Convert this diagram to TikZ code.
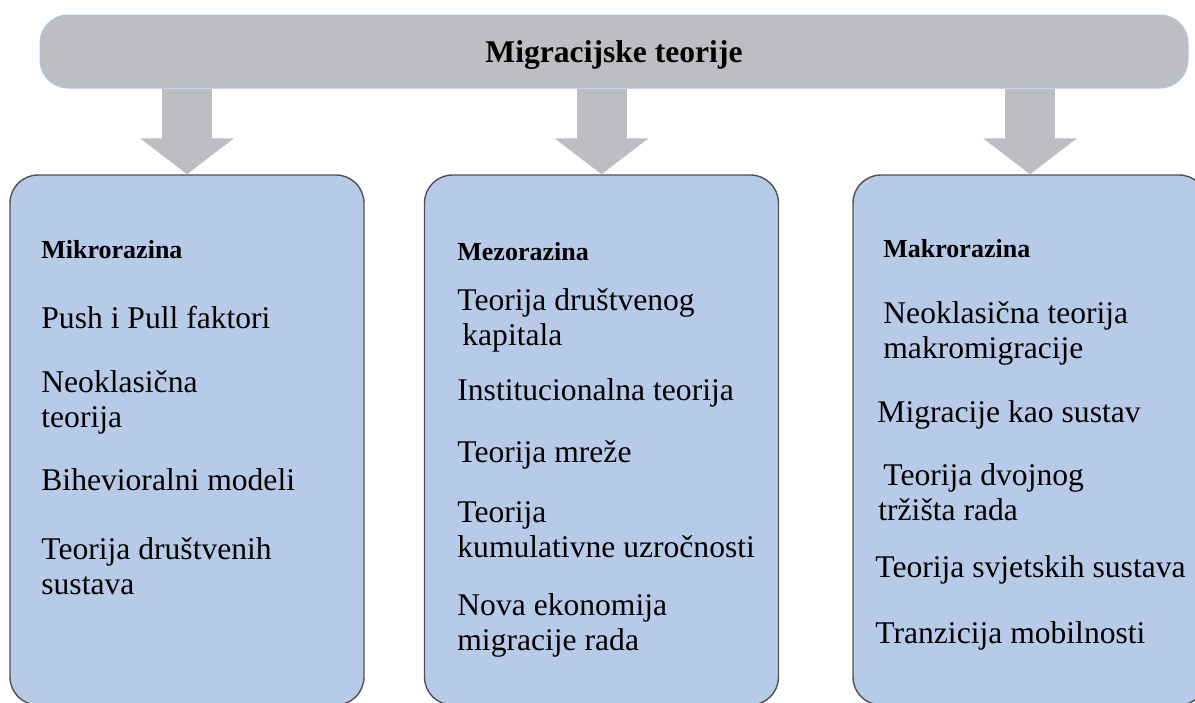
\documentclass[tikz,border=0pt]{standalone}
\usepackage{fontspec}
\setmainfont{Liberation Serif}
\usetikzlibrary{arrows.meta}
\definecolor{bannergray}{RGB}{189,190,193}
\definecolor{bannerline}{RGB}{172,196,230}
\definecolor{levelblue}{RGB}{183,203,232}
\definecolor{levelline}{RGB}{80,80,80}
\tikzstyle{banner} = [rectangle, rounded corners=14pt, minimum width=574pt, minimum height=36.5pt, inner sep=0pt, text depth=0pt, draw=bannerline, line width=0.5pt, fill=bannergray, font=\fontsize{15.8}{19}\selectfont\bfseries]
\tikzstyle{level} = [rectangle, rounded corners=14pt, minimum width=177pt, minimum height=265pt, inner sep=0pt, draw=levelline, line width=0.7pt, fill=levelblue]
\tikzstyle{heading} = [anchor=base west, inner sep=0pt, font=\fontsize{13}{15}\selectfont\bfseries]
\tikzstyle{item} = [anchor=base west, inner sep=0pt, align=left, font=\fontsize{15.8}{17.5}\selectfont]
\tikzstyle{arrow} = [draw=bannergray, line width=25pt, -{Triangle[width=46pt,length=18pt]}]

\begin{document}
\begin{tikzpicture}[x=0.5pt, y=-0.5pt]
    \useasboundingbox (0,0) rectangle (1195,702);
    \clip (0,0) rectangle (1195,702);
    \node (theories) [banner] at (614,51.5) {Migracijske teorije};
    \node (mikro) [level] at (187,440) {};
    \node (mezo) [level] at (601.5,440) {};
    \node (makro) [level] at (1030,440) {};
    \draw [arrow] (theories.south -| mikro.north) -- (mikro.north);
    \draw [arrow] (theories.south -| mezo.north) -- (mezo.north);
    \draw [arrow] (theories.south -| makro.north) -- (makro.north);
    % mikrorazina (two-line items sit on their last line)
    \node (mikrohead) [heading] at (41,258) {Mikrorazina};
    \node (pushpull) [item] at (41,328) {Push i Pull faktori};
    \node (neoklas) [item] at (41,427) {Neoklasična\\teorija};
    \node (bihev) [item] at (41,490) {Bihevioralni modeli};
    \node (drustsust) [item] at (41,594) {Teorija društvenih\\sustava};
    % mezorazina
    \node (mezohead) [heading] at (457,260) {Mezorazina};
    \node (kapital) [item] at (457,345) {Teorija društvenog\\\hspace*{2.5pt}kapitala};
    \node (instit) [item] at (457,400) {Institucionalna teorija};
    \node (mreza) [item] at (457,462) {Teorija mreže};
    \node (kumul) [item] at (457,557) {Teorija\\kumulativne uzročnosti};
    \node (novaek) [item] at (457,650) {Nova ekonomija\\migracije rada};
    % makrorazina
    \node (makrohead) [heading] at (883,257) {Makrorazina};
    \node (neomakro) [item] at (883,358) {Neoklasična teorija\\makromigracije};
    \node (sustav) [item] at (877,422) {Migracije kao sustav};
    \node (dvojno) [item] at (878,520) {\hspace*{2.5pt}Teorija dvojnog\\tržišta rada};
    \node (svjet) [item] at (875,577) {Teorija svjetskih sustava};
    \node (tranz) [item] at (875,643) {Tranzicija mobilnosti};
\end{tikzpicture}
\end{document}
